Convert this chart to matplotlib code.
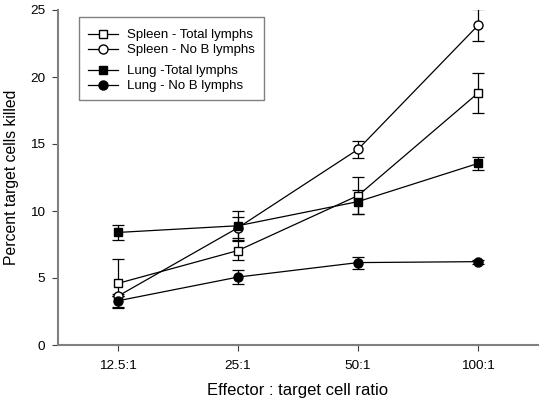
import matplotlib
matplotlib.use("Agg")
import matplotlib.pyplot as plt
from matplotlib.lines import Line2D
from matplotlib.patches import Rectangle
import numpy as np

plt.rcParams['font.family'] = ['Liberation Sans', 'DejaVu Sans']

categories = ["12.5:1", "25:1", "50:1", "100:1"]
spleen_total = [4.6, 7.05, 11.15, 18.8]
spleen_total_err = [1.85, 0.7, 1.4, 1.5]
spleen_nob = [3.65, 8.75, 14.6, 23.85]
spleen_nob_err = [0.0, 0.8, 0.65, 1.2]
lung_total = [8.4, 8.9, 10.7, 13.55]
lung_total_err = [0.58, 1.1, 0.9, 0.5]
lung_nob = [3.3, 5.07, 6.15, 6.22]
lung_nob_err = [0.5, 0.5, 0.45, 0.15]

W, H = 543, 404
fig = plt.figure(figsize=(W / 100, H / 100), dpi=100)
ax = fig.add_axes([58 / W, 1 - 345 / H, 480 / W, 335 / H])

x = np.arange(len(categories))
series = [
    ("Spleen - Total lymphs", spleen_total, spleen_total_err, 's', 'white', 5.5),
    ("Spleen - No B lymphs", spleen_nob, spleen_nob_err, 'o', 'white', 6.5),
    ("Lung -Total lymphs", lung_total, lung_total_err, 's', 'black', 5.5),
    ("Lung - No B lymphs", lung_nob, lung_nob_err, 'o', 'black', 6.5),
]
handles = []
for label, y, e, m, fc, ms in series:
    ax.errorbar(x, y, yerr=e, fmt='-', marker=m, color='black', mfc=fc, mec='black',
                ms=ms, lw=0.9, elinewidth=0.9, capsize=4, capthick=0.9)
    handles.append(Line2D([], [], color='black', lw=0.9, marker=m, mfc=fc,
                          mec='black', ms=ms, label=label))

ax.set_xlim(-0.5, 3.5)
ax.set_ylim(0, 25)
ax.set_xticks(x)
ax.set_xticklabels(categories)
ax.set_yticks([0, 5, 10, 15, 20, 25])
for s in ['top', 'right']:
    ax.spines[s].set_visible(False)
for s in ['left', 'bottom']:
    ax.spines[s].set_color('#808080')
    ax.spines[s].set_linewidth(1.5)
ax.tick_params(axis='both', direction='out', length=4, width=0.8, color='#404040',
               labelsize=9.7)
ax.tick_params(axis='x', pad=7)
ax.tick_params(axis='y', pad=5)
ax.set_xlabel("Effector : target cell ratio", fontsize=12, labelpad=8)
ax.set_ylabel("Percent target cells killed", fontsize=11.3, labelpad=8)

# legend frame
fig.patches.append(Rectangle((79 / W, 1 - 100 / H), (264 - 79) / W, (100 - 17) / H,
                             transform=fig.transFigure, fill=True, facecolor='white',
                             edgecolor='#808080', lw=1.0, zorder=5))

common = dict(loc='upper left', fontsize=9.5, frameon=False, borderpad=0,
              borderaxespad=0, handlelength=2.27, handletextpad=0.68,
              labelspacing=0.22, bbox_transform=fig.transFigure)
leg1 = fig.legend(handles=handles[:2], bbox_to_anchor=(88 / W, 1 - 29 / H), **common)
leg2 = fig.legend(handles=handles[2:], bbox_to_anchor=(88 / W, 1 - 65 / H), **common)
leg1.set_zorder(6)
leg2.set_zorder(6)

fig.savefig("out.png", dpi=100)
